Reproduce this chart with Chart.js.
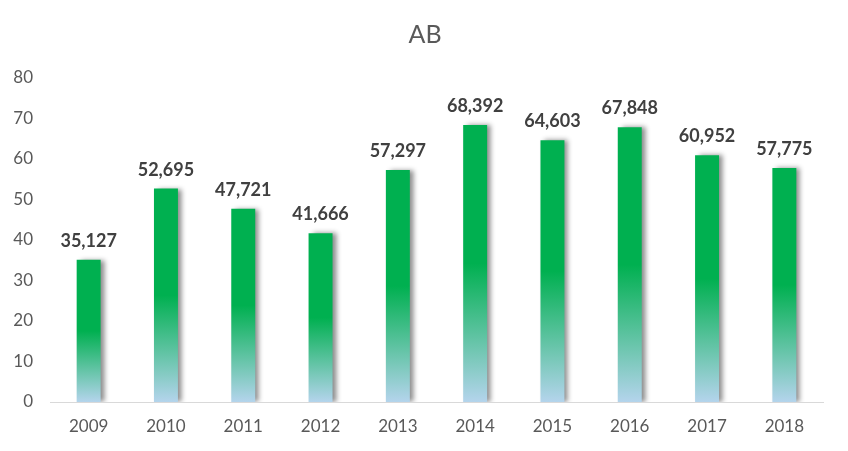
<!DOCTYPE html>
<html>
<head>
<meta charset="utf-8">
<script src="https://cdn.jsdelivr.net/npm/chart.js@4/dist/chart.umd.min.js"></script>
<style>
  html, body { margin: 0; padding: 0; background: #fff; }
  #wrap { width: 848px; height: 451px; }
</style>
</head>
<body>
<div id="wrap"><canvas id="chart" width="848" height="451"></canvas></div>
<script>
const years = ['2009', '2010', '2011', '2012', '2013', '2014', '2015', '2016', '2017', '2018'];
const values = [35.127, 52.695, 47.721, 41.666, 57.297, 68.392, 64.603, 67.848, 60.952, 57.775];
const yTicks = [0, 10, 20, 30, 40, 50, 60, 70, 80];

const FONT = 'Lato, "Open Sans", sans-serif';
const GREEN = '#00b050';
const LIGHT = '#b4d4ec';

function fmt(v) {
  return v.toFixed(3).replace('.', ',');
}

// green on top half of each bar, fading to light blue at its base
function barFill(ctx) {
  const chart = ctx.chart;
  const y = chart.scales.y;
  if (!y || ctx.dataIndex === undefined) return GREEN;
  const top = y.getPixelForValue(values[ctx.dataIndex]);
  const base = y.getPixelForValue(0);
  if (!isFinite(top) || !isFinite(base) || top === base) return GREEN;
  const g = chart.ctx.createLinearGradient(0, top, 0, base);
  g.addColorStop(0, GREEN);
  g.addColorStop(0.5, GREEN);
  g.addColorStop(1, LIGHT);
  return g;
}

const shadowPlugin = {
  id: 'barShadow',
  beforeDatasetsDraw(chart) {
    const c = chart.ctx;
    c.save();
    c.shadowColor = 'rgba(0,0,0,0.45)';
    c.shadowBlur = 5;
    c.shadowOffsetX = 4;
    c.shadowOffsetY = 0;
  },
  afterDatasetsDraw(chart) {
    chart.ctx.restore();
  }
};

const labelPlugin = {
  id: 'labels',
  afterDraw(chart) {
    const c = chart.ctx;
    c.save();
    // title
    c.fillStyle = '#595959';
    c.font = '25px ' + FONT;
    c.textAlign = 'center';
    c.textBaseline = 'middle';
    c.fillText('AB', 425, 35);
    // value labels
    c.fillStyle = '#404040';
    c.font = 'bold 18px ' + FONT;
    c.textBaseline = 'alphabetic';
    chart.getDatasetMeta(0).data.forEach((bar, i) => {
      c.fillText(fmt(values[i]), bar.x, bar.y - 13);
    });
    c.restore();
  }
};

const chart = new Chart(document.getElementById('chart'), {
  type: 'bar',
  data: {
    labels: years,
    datasets: [{
      data: values,
      backgroundColor: barFill,
      categoryPercentage: 1,
      barPercentage: 0.31,
    }],
  },
  options: {
    responsive: false,
    animation: false,
    layout: { padding: { top: 78, right: 25, bottom: 0, left: 0 } },
    plugins: {
      legend: { display: false },
      tooltip: { enabled: false },
    },
    scales: {
      x: {
        grid: { display: false },
        border: { display: true, color: '#d9d9d9', width: 1 },
        ticks: { color: '#595959', font: { family: FONT, size: 17 }, padding: 6 },
        afterFit(s) { s.height = 49; },
      },
      y: {
        min: 0,
        max: 80,
        afterBuildTicks(s) { s.ticks = yTicks.map(v => ({ value: v })); },
        grid: { display: false },
        border: { display: false },
        ticks: { color: '#595959', font: { family: FONT, size: 17 }, padding: 9 },
        afterFit(s) { s.width = 50; },
      },
    },
  },
  plugins: [shadowPlugin, labelPlugin],
});
// redraw once scales are laid out so the gradients get real pixel bounds
chart.update('none');
</script>
</body>
</html>
